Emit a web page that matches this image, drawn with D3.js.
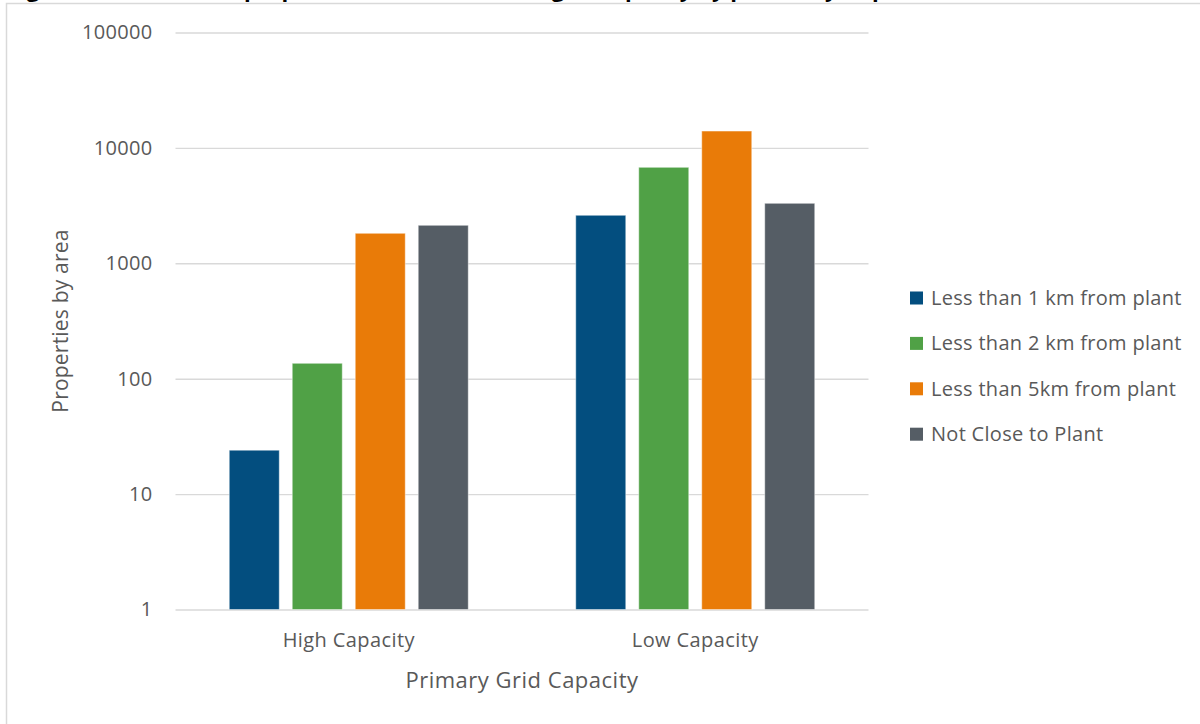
<!DOCTYPE html>
<html>
<head>
<meta charset="utf-8">
<script src="https://cdn.jsdelivr.net/npm/d3@7"></script>
<style>
  html, body { margin: 0; padding: 0; background: #ffffff; }
  svg { display: block; }
  text { font-family: "Open Sans", "Noto Sans", sans-serif; }
</style>
</head>
<body>
<svg id="chart" width="1200" height="724"></svg>
<script>
// Grid capacity categories and properties counted per proximity band
const categories = ["High Capacity", "Low Capacity"];
const seriesNames = [
  "Less than 1 km from plant",
  "Less than 2 km from plant",
  "Less than 5km from plant",
  "Not Close to Plant"
];
const lessThan1km = [24, 2607];
const lessThan2km = [136, 6790];
const lessThan5km = [1820, 14000];
const notCloseToPlant = [2135, 3311];
const seriesColors = ["#034e7f", "#50a146", "#e97b08", "#555d65"];
const yTickValues = [1, 10, 100, 1000, 10000, 100000];

const seriesValues = [lessThan1km, lessThan2km, lessThan5km, notCloseToPlant];

const svg = d3.select("#chart");
const plotLeft = 175.5, plotRight = 868.5, plotTop = 32.5, plotBottom = 609.5;
const textGrey = "#595959";

// Figure caption sitting above the chart frame
svg.append("text")
  .attr("x", 8).attr("y", -3)
  .attr("font-family", "Liberation Sans, Arial, sans-serif")
  .attr("font-weight", "bold")
  .attr("font-size", 22)
  .attr("fill", "#000")
  .text("Figure 10: Number of properties in each area and grid capacity by proximity to plant");

// Outer chart frame (extends past the right and bottom edges)
svg.append("rect")
  .attr("x", 6.5).attr("y", 3.5)
  .attr("width", 1400).attr("height", 900)
  .attr("fill", "#ffffff")
  .attr("stroke", "#d9d9d9")
  .attr("stroke-width", 1.5);

const y = d3.scaleLog().domain([1, 100000]).range([plotBottom, plotTop]);
const x0 = d3.scaleBand().domain(categories).range([plotLeft, plotRight]).paddingInner(0).paddingOuter(0);
const groupWidth = 239;
const x1 = d3.scaleBand().domain(seriesNames).range([0, groupWidth]).paddingInner(0.206).paddingOuter(0);

// Y axis with horizontal gridlines
const yAxis = d3.axisLeft(y)
  .tickValues(yTickValues)
  .tickFormat(d3.format("d"))
  .tickSizeInner(-(plotRight - plotLeft))
  .tickSizeOuter(0)
  .tickPadding(23);

const gy = svg.append("g")
  .attr("transform", `translate(${plotLeft},0)`)
  .call(yAxis);
gy.select(".domain").remove();
gy.selectAll(".tick line").attr("stroke", "#d9d9d9").attr("stroke-width", 1.4);
gy.selectAll(".tick text")
  .attr("fill", textGrey)
  .attr("font-size", 20)
  .attr("letter-spacing", "0.3px")
  .attr("font-family", "Open Sans, Noto Sans, sans-serif");

// Bars
const groups = svg.append("g").selectAll("g")
  .data(categories)
  .join("g")
  .attr("transform", d => `translate(${x0(d) + (x0.bandwidth() - groupWidth) / 2},0)`);

groups.selectAll("rect")
  .data((cat, ci) => seriesNames.map((s, si) => ({ series: s, value: seriesValues[si][ci], color: seriesColors[si] })))
  .join("rect")
  .attr("x", d => x1(d.series))
  .attr("width", x1.bandwidth())
  .attr("y", d => y(d.value))
  .attr("height", d => plotBottom - y(d.value))
  .attr("fill", d => d.color)
  .attr("stroke", "rgba(255,255,255,0.45)")
  .attr("stroke-width", 1);

// X axis category labels
const xAxis = d3.axisBottom(x0).tickSize(0).tickPadding(23);
const gx = svg.append("g")
  .attr("transform", `translate(0,${plotBottom})`)
  .call(xAxis);
gx.select(".domain").remove();
gx.selectAll(".tick text")
  .attr("fill", textGrey)
  .attr("font-size", 20)
  .attr("letter-spacing", "0.4px")
  .attr("font-family", "Open Sans, Noto Sans, sans-serif");

// Axis titles
svg.append("text")
  .attr("x", (plotLeft + plotRight) / 2)
  .attr("y", 688)
  .attr("text-anchor", "middle")
  .attr("font-size", 22)
  .attr("letter-spacing", "0.5px")
  .attr("fill", textGrey)
  .text("Primary Grid Capacity");

svg.append("text")
  .attr("transform", "translate(68,321) rotate(-90)")
  .attr("text-anchor", "middle")
  .attr("font-size", 21)
  .attr("letter-spacing", "0.2px")
  .attr("fill", textGrey)
  .text("Properties by area");

// Legend
const legend = svg.append("g").attr("transform", "translate(910,298)");
const legendItems = legend.selectAll("g")
  .data(seriesNames)
  .join("g")
  .attr("transform", (d, i) => `translate(0,${i * 45.4})`);
legendItems.append("rect")
  .attr("x", 0).attr("y", -6.5)
  .attr("width", 13).attr("height", 13)
  .attr("fill", (d, i) => seriesColors[i]);
legendItems.append("text")
  .attr("x", 21)
  .attr("dy", "0.35em")
  .attr("font-size", 20)
  .attr("letter-spacing", "0.3px")
  .attr("fill", textGrey)
  .text(d => d);
</script>
</body>
</html>
